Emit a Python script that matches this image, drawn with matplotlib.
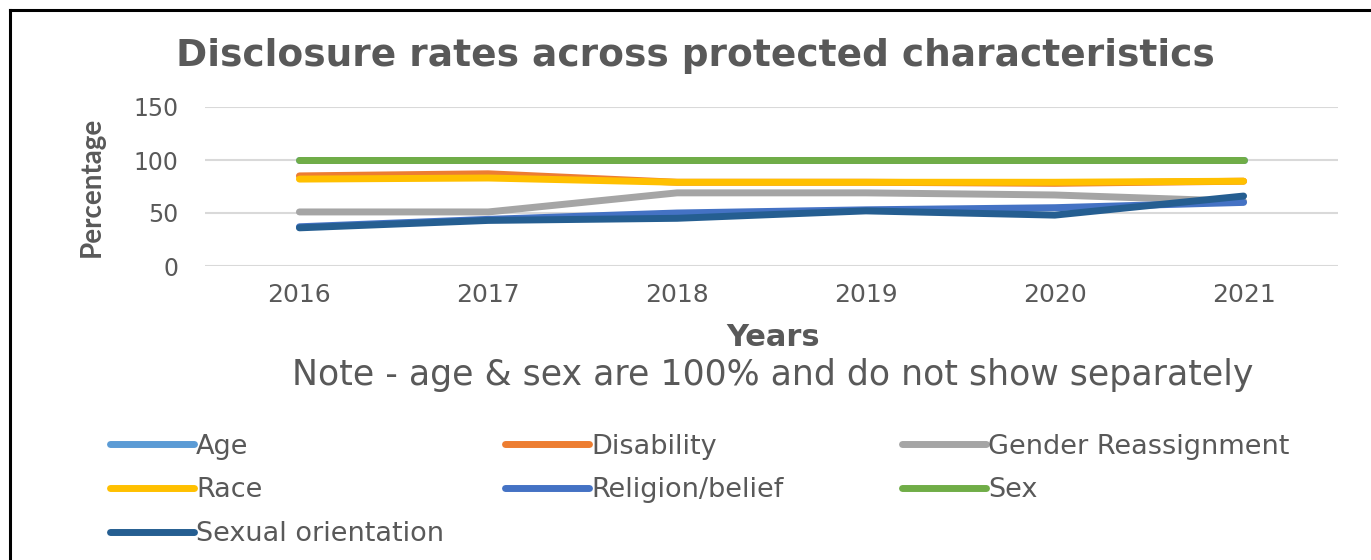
import matplotlib
matplotlib.use("Agg")
import matplotlib.pyplot as plt
from matplotlib.lines import Line2D

plt.rcParams['font.family'] = ['DejaVu Sans']

years = ['2016', '2017', '2018', '2019', '2020', '2021']
age = [100, 100, 100, 100, 100, 100]
disability = [85, 87, 79, 79, 78, 80]
gender_reassignment = [51, 51, 69, 69, 67, 61]
race = [82, 83, 79, 79, 79, 80]
religion = [37, 44, 50, 53, 55, 60]
sex = [100, 100, 100, 100, 100, 100]
sexual_orientation = [36, 43, 45, 52, 48, 66]

series = [
    ('Age', age, '#5B9BD5'),
    ('Disability', disability, '#ED7D31'),
    ('Gender Reassignment', gender_reassignment, '#A5A5A5'),
    ('Race', race, '#FFC000'),
    ('Religion/belief', religion, '#4472C4'),
    ('Sex', sex, '#70AD47'),
    ('Sexual orientation', sexual_orientation, '#255E91'),
]

txt = '#595959'
fig = plt.figure(figsize=(13.71, 5.6), dpi=100)
ax = fig.add_axes([205 / 1371, 1 - 266 / 560, 1133 / 1371, 159 / 560])

x = list(range(len(years)))
handles = {}
for name, vals, col in series:
    ln, = ax.plot(x, vals, color=col, linewidth=5, solid_capstyle='round',
                  solid_joinstyle='round', label=name, zorder=3)
    handles[name] = ln

ax.set_xlim(-0.5, 5.5)
ax.set_ylim(0, 150)
ax.set_yticks([0, 50, 100, 150])
ax.set_xticks(x)
ax.set_xticklabels(years)
ax.grid(axis='y', color='#D9D9D9', linewidth=1.5, zorder=0)
for s in ax.spines.values():
    s.set_visible(False)
ax.tick_params(length=0, colors=txt, labelsize=17)
ax.tick_params(axis='x', labelsize=18, pad=12)
ax.tick_params(axis='y', pad=19)

ax.set_ylabel('Percentage', fontsize=20, fontweight='bold', color=txt,
              family='Lato', labelpad=21)
fig.text(0.507, 1 - 56 / 560, 'Disclosure rates across protected characteristics',
         ha='center', va='center', fontsize=27, fontweight='bold', color=txt)
fig.text(773 / 1371, 1 - 337 / 560, 'Years', ha='center', va='center',
         fontsize=22, fontweight='bold', color=txt)
fig.text(773 / 1371, 1 - 375 / 560, 'Note - age & sex are 100% and do not show separately',
         ha='center', va='center', fontsize=25, color=txt)

# legend laid out in three columns like the original
columns = [
    (96, ['Age', 'Race', 'Sexual orientation']),
    (491, ['Disability', 'Religion/belief']),
    (888, ['Gender Reassignment', 'Sex']),
]
for xpix, names in columns:
    leg = fig.legend([handles[n] for n in names], names,
                     loc='upper left', bbox_to_anchor=(xpix / 1371, 1 - 420 / 560),
                     frameon=False, fontsize=19.5, handlelength=3.1, handletextpad=0.1,
                     labelspacing=0.66, borderpad=0, labelcolor=txt)
    for h in leg.legend_handles:
        h.set_linewidth(5)
        h.set_solid_capstyle('round')

# border on top and left as in the source image
fig.add_artist(Line2D([10 / 1371, 1], [1 - 10 / 560, 1 - 10 / 560], color='black', linewidth=2.2))
fig.add_artist(Line2D([10 / 1371, 10 / 1371], [0, 1 - 10 / 560], color='black', linewidth=2.2))

fig.savefig('out.png', dpi=100, facecolor='white')
